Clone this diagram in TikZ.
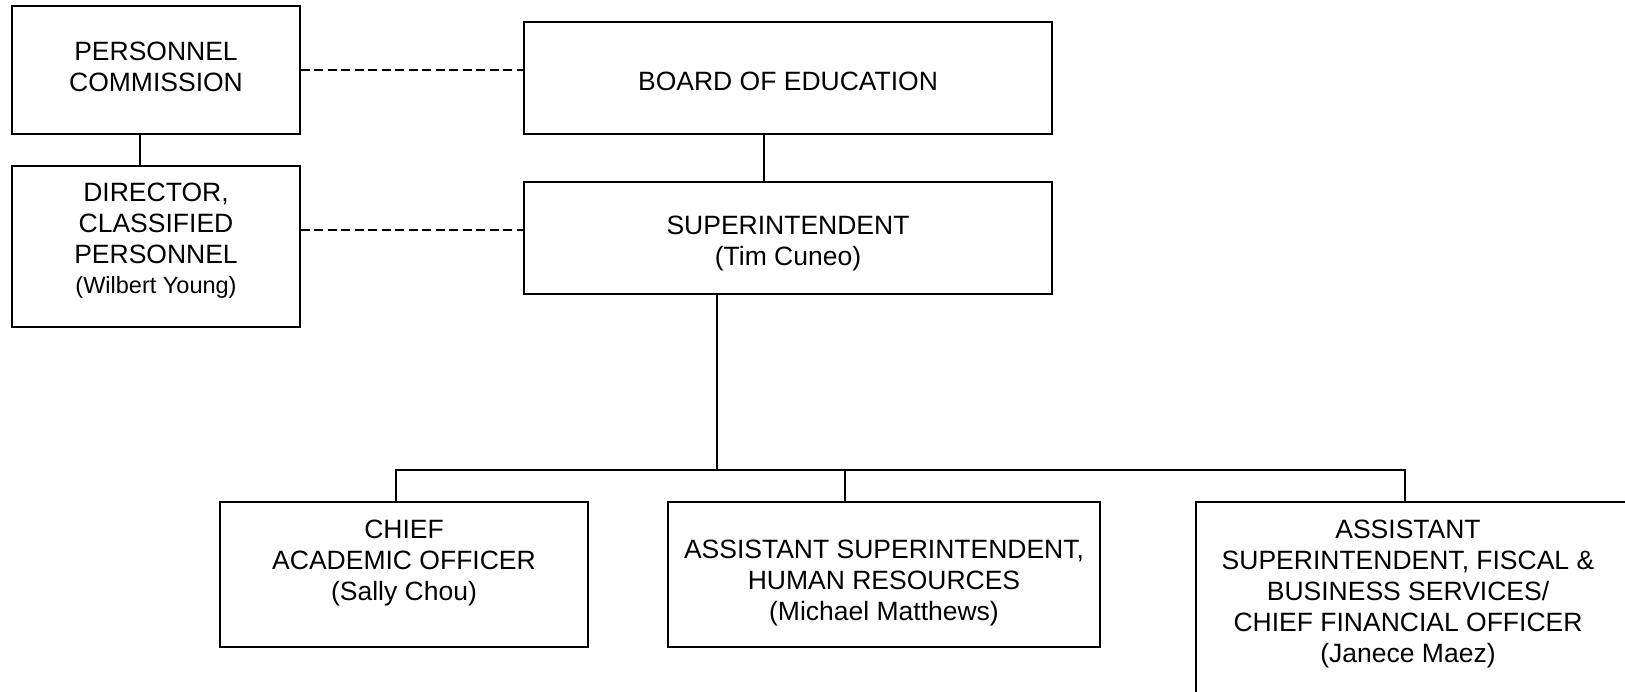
\documentclass[tikz,border=0pt]{standalone}
\usepackage{fontspec}
\setmainfont{Liberation Sans}
\begin{document}
\begin{tikzpicture}[x=1pt,y=-1pt,
  orgbox/.style={draw, line width=1.8pt, inner sep=0pt},
  txt/.style={anchor=north, inner sep=0pt, align=center, font=\fontsize{26.5}{31}\selectfont},
  conn/.style={line width=1.8pt},
  dconn/.style={line width=1.8pt, dash pattern=on 9pt off 4.5pt}]
\clip (0,0) rectangle (1625,692);
% boxes
\node[orgbox, minimum width=288pt, minimum height=128pt] (pc) at (156,70) {};
\node[orgbox, minimum width=288pt, minimum height=161pt] (dir) at (156,246.5) {};
\node[orgbox, minimum width=528pt, minimum height=112pt] (board) at (788,78) {};
\node[orgbox, minimum width=528pt, minimum height=112pt] (sup) at (788,238) {};
\node[orgbox, minimum width=368pt, minimum height=145pt] (cao) at (404,574.5) {};
\node[orgbox, minimum width=432pt, minimum height=145pt] (ashr) at (884,574.5) {};
\node[orgbox, minimum width=434pt, minimum height=208pt] (cfo) at (1413,606) {};
% texts
\node[txt] (pct) at (156,41.7) {PERSONNEL\\COMMISSION};
\node[txt] (dirt) at (156,183) {DIRECTOR,\\CLASSIFIED\\PERSONNEL\\[-1pt]{\fontsize{23.5}{28}\selectfont (Wilbert Young)}};
\node[txt] (boardt) at (788,72) {BOARD OF EDUCATION};
\node[txt] (supt) at (788,216) {SUPERINTENDENT\\(Tim Cuneo)};
\node[txt] (caot) at (404,520) {CHIEF\\ACADEMIC OFFICER\\(Sally Chou)};
\node[txt] (ashrt) at (884,540) {ASSISTANT SUPERINTENDENT,\\HUMAN RESOURCES\\(Michael Matthews)};
\node[txt] (cfot) at (1408,520) {ASSISTANT\\SUPERINTENDENT, FISCAL \&\\BUSINESS SERVICES/\\CHIEF FINANCIAL OFFICER\\(Janece Maez)};
% connector positions
\coordinate (c1) at (140,0);
\coordinate (c2) at (764,0);
\coordinate (d2) at (0,230);
\coordinate (j) at (717,470);
\coordinate (jA) at (396,470);
\coordinate (jB) at (845,470);
\coordinate (jC) at (1405,470);
% connectors
\draw[conn] (pc.south -| c1) -- (dir.north -| c1);
\draw[dconn] (pc.east) -- (pc.east -| board.west);
\draw[dconn] (dir.east |- d2) -- (sup.west |- d2);
\draw[conn] (board.south -| c2) -- (sup.north -| c2);
\draw[conn] (sup.south -| j) -- (j);
\draw[conn] (cao.north -| jA) -- (jA) -- (jC) -- (cfo.north -| jC);
\draw[conn] (jB) -- (ashr.north -| jB);
\end{tikzpicture}
\end{document}
